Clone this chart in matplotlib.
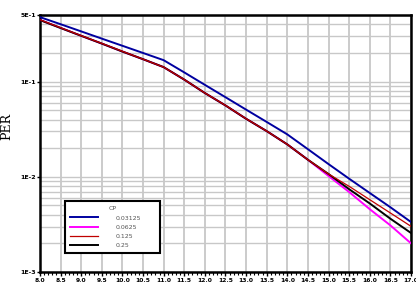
import numpy as np
import matplotlib.pyplot as plt
from matplotlib.ticker import FixedLocator, MultipleLocator, LogLocator, NullFormatter

# x axis values
snr = [8.0, 8.5, 9.0, 9.5, 10.0, 10.5, 11.0, 11.5, 12.0, 12.5,
       13.0, 13.5, 14.0, 14.5, 15.0, 15.5, 16.0, 16.5, 17.0]

# PER per CP value
per_003125 = [0.476, 0.401, 0.337, 0.283, 0.238, 0.200, 0.168, 0.125, 0.0925, 0.0686,
              0.0508, 0.0377, 0.0279, 0.0195, 0.0136, 0.00955, 0.00676, 0.00479, 0.00335]
per_00625 = [0.445, 0.367, 0.303, 0.251, 0.207, 0.172, 0.142, 0.105, 0.0759, 0.0562,
             0.0407, 0.0302, 0.0219, 0.0151, 0.0102, 0.00692, 0.00457, 0.00309, 0.00200]
per_0125 = [0.447, 0.368, 0.304, 0.252, 0.208, 0.172, 0.142, 0.105, 0.0760, 0.0563,
            0.0408, 0.0302, 0.0219, 0.0151, 0.0107, 0.00794, 0.00575, 0.00417, 0.00302]
per_025 = [0.443, 0.366, 0.303, 0.251, 0.207, 0.172, 0.142, 0.105, 0.0759, 0.0562,
           0.0407, 0.0302, 0.0219, 0.0151, 0.0107, 0.00741, 0.00525, 0.00363, 0.00257]

ytick_vals = [0.5, 0.1, 0.01, 0.001]
ytick_labels = ["5E-1", "1E-1", "1E-2", "1E-3"]

fig = plt.figure(figsize=(4.16, 2.90), dpi=100)
ax = fig.add_axes([0.096, 0.062, 0.892, 0.886])

ax.plot(snr, per_003125, color="#0000a0", lw=1.4, label="0.03125", zorder=3)
ax.plot(snr, per_00625, color="#ff00ff", lw=1.4, label="0.0625", zorder=3)
ax.plot(snr, per_025, color="black", lw=1.4, label="0.25", zorder=4)
ax.plot(snr, per_0125, color="#c00000", lw=0.9, label="0.125", zorder=5)

ax.set_yscale("log")
ax.set_xlim(8.0, 17.0)
ax.set_ylim(0.001, 0.5)

ax.set_xticks(snr)
ax.set_xticklabels(["%.1f" % v for v in snr], fontsize=4.3, fontweight="bold")
ax.xaxis.set_minor_locator(MultipleLocator(0.1))

ax.yaxis.set_major_locator(FixedLocator(ytick_vals))
ax.set_yticklabels(ytick_labels, fontsize=4.5, fontweight="bold")
ax.yaxis.set_minor_locator(LogLocator(base=10, subs=np.arange(2, 10)))
ax.yaxis.set_minor_formatter(NullFormatter())

ax.grid(True, which="major", axis="x", color="#bdbdbd", lw=1.1)
ax.grid(True, which="both", axis="y", color="#c8c8c8", lw=1.0)
ax.set_axisbelow(True)

ax.tick_params(axis="x", which="major", length=3, width=1, pad=1, direction="out")
ax.tick_params(axis="x", which="minor", length=2, width=0.8, direction="out")
ax.tick_params(axis="y", which="major", length=2, width=1, pad=1)
ax.tick_params(axis="y", which="minor", length=0)

for s in ax.spines.values():
    s.set_linewidth(1.8)
    s.set_color("black")

ax.set_ylabel("PER", family="DejaVu Serif", fontsize=9)
ax.yaxis.set_label_coords(-0.072, 0.565)

handles, labels = ax.get_legend_handles_labels()
order = [0, 1, 3, 2]
leg = ax.legend([handles[i] for i in order], [labels[i] for i in order],
                loc="lower left", bbox_to_anchor=(0.059, 0.062, 0.272, 0.218),
                mode="expand", title="CP", fontsize=4.5, title_fontsize=4.5,
                handlelength=4.5, handletextpad=2.8, borderpad=0.8,
                labelspacing=0.6, fancybox=False, framealpha=1)
leg.get_frame().set_edgecolor("black")
leg.get_frame().set_linewidth(1.5)
for t in leg.get_texts():
    t.set_color("#555555")
leg.get_title().set_color("#555555")

fig.savefig("out.png", dpi=100)
